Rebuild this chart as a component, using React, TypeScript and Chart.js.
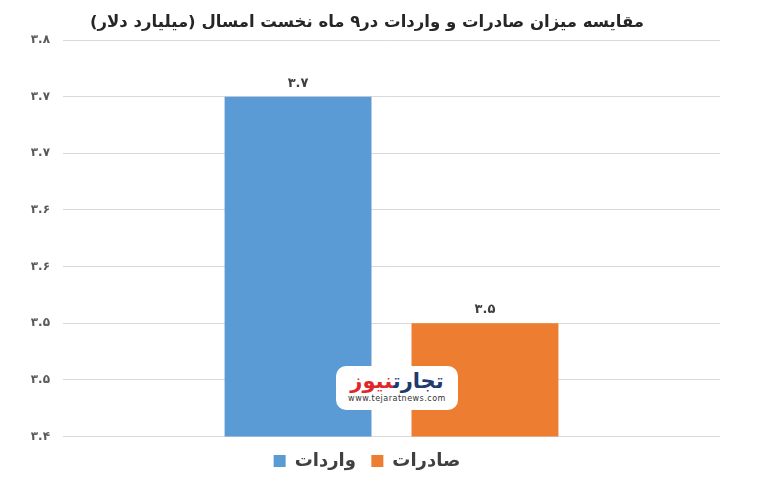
import React, { useEffect, useRef } from "react";
import { Chart, registerables } from "chart.js";

Chart.register(...registerables);

const categories = [""];
const seriesNames = ["واردات", "صادرات"];
const importsValues = [3.7];
const exportsValues = [3.5];
const valueLabels = [["۳.۷"], ["۳.۵"]];
const yTickLabels = ["۳.۴", "۳.۵", "۳.۵", "۳.۶", "۳.۶", "۳.۷", "۳.۷", "۳.۸"];
const yMin = 3.4;
const yMax = 3.75;
const yStep = 0.05;
const titleText = "مقایسه میزان صادرات و واردات در۹ ماه نخست امسال (میلیارد دلار)";

const FONT = "'DejaVu Sans', sans-serif";

const valueLabelPlugin = {
  id: "valueLabels",
  afterDatasetsDraw(chart: any) {
    const ctx = chart.ctx;
    ctx.save();
    ctx.font = `bold 13px ${FONT}`;
    ctx.fillStyle = "#404040";
    ctx.textAlign = "center";
    ctx.textBaseline = "bottom";
    chart.data.datasets.forEach((ds: any, i: number) => {
      const meta = chart.getDatasetMeta(i);
      meta.data.forEach((bar: any, j: number) => {
        ctx.fillText(valueLabels[i][j], bar.x, bar.y - 7);
      });
    });
    ctx.restore();
  },
};

export default function App() {
  const ref = useRef<HTMLCanvasElement | null>(null);
  useEffect(() => {
    document.body.style.margin = "0";
    const chart = new Chart(ref.current as HTMLCanvasElement, {
      type: "bar",
      data: {
        labels: categories,
        datasets: [
          {
            label: seriesNames[0],
            data: importsValues,
            backgroundColor: "#5B9BD5",
            categoryPercentage: 0.569,
            barPercentage: 0.786,
          },
          {
            label: seriesNames[1],
            data: exportsValues,
            backgroundColor: "#ED7D31",
            categoryPercentage: 0.569,
            barPercentage: 0.786,
          },
        ],
      },
      options: {
        animation: false,
        responsive: false,
        layout: { padding: { left: 14, right: 48, top: 0, bottom: 6 } },
        plugins: {
          title: {
            display: true,
            text: titleText,
            color: "#262626",
            font: { family: FONT, size: 16.5, weight: "bold", lineHeight: 1.2 },
            padding: { top: 13, bottom: 7.2 },
          },
          legend: {
            position: "bottom",
            labels: {
              color: "#404040",
              font: { family: FONT, size: 18, weight: "bold" },
              boxWidth: 12,
              boxHeight: 12,
              padding: 15.5,
            },
          },
          tooltip: { enabled: false },
        },
        scales: {
          x: {
            grid: { display: false, drawTicks: false },
            border: { display: false },
            ticks: { display: false },
          },
          y: {
            min: yMin,
            max: yMax,
            afterFit(scale: any) {
              scale.width = 49;
            },
            ticks: {
              stepSize: yStep,
              padding: 13,
              color: "#595959",
              font: { family: FONT, size: 12, weight: "bold" },
              callback: (v: any) => yTickLabels[Math.round((Number(v) - yMin) / yStep)],
            },
            grid: { color: "#d9d9d9", drawTicks: false },
            border: { display: false },
          },
        },
      },
      plugins: [valueLabelPlugin],
    } as any);
    return () => chart.destroy();
  }, []);

  return (
    <div style={{ position: "relative", width: 768, height: 486, background: "#fff" }}>
      <canvas ref={ref} width={768} height={486} style={{ display: "block" }} />
      <div
        style={{
          position: "absolute",
          left: 336,
          top: 366,
          width: 122,
          height: 44,
          background: "#fff",
          borderRadius: 10,
          textAlign: "center",
          fontFamily: FONT,
        }}
      >
        <div style={{ fontSize: 21, fontWeight: "bold", lineHeight: "26px", marginTop: 2 }} dir="rtl">
          <span style={{ color: "#1f3a6e" }}>تجارت</span>
          <span style={{ color: "#e0262b" }}>نیوز</span>
        </div>
        <div style={{ fontSize: 8, color: "#333", lineHeight: "10px", letterSpacing: 0.5 }}>www.tejaratnews.com</div>
      </div>
    </div>
  );
}
